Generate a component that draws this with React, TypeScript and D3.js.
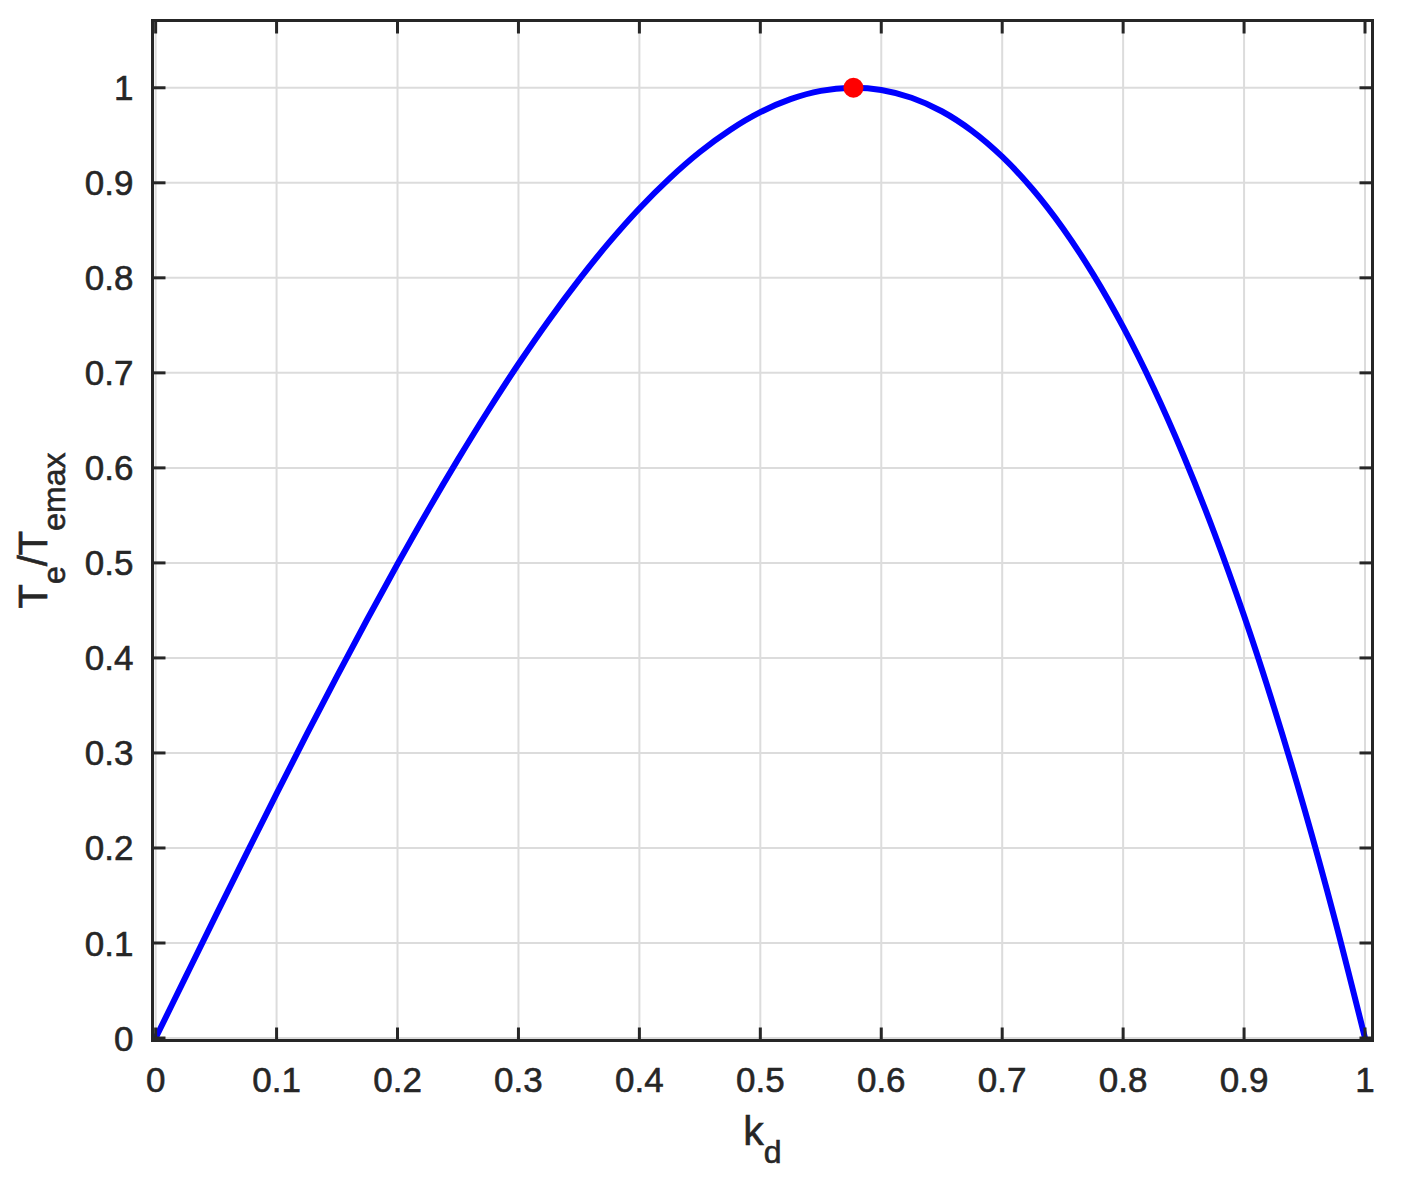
import React from "react";
import * as d3 from "d3";

const kd = [0, 0.025, 0.05, 0.075, 0.1, 0.125, 0.15, 0.175, 0.2, 0.225, 0.25, 0.275, 0.3, 0.325, 0.35, 0.375, 0.4, 0.425, 0.45, 0.475, 0.5, 0.525, 0.55, 0.575, 0.6, 0.625, 0.65, 0.675, 0.7, 0.725, 0.75, 0.775, 0.8, 0.825, 0.85, 0.875, 0.9, 0.925, 0.95, 0.975, 1.0];
const teRatio = [0, 0.0649, 0.1296, 0.1938, 0.2572, 0.3197, 0.3809, 0.4407, 0.4988, 0.555, 0.6089, 0.6604, 0.7093, 0.7552, 0.7979, 0.8373, 0.873, 0.9047, 0.9324, 0.9556, 0.9743, 0.988, 0.9967, 1.0, 0.9977, 0.9895, 0.9753, 0.9547, 0.9275, 0.8935, 0.8525, 0.8041, 0.7483, 0.6846, 0.6128, 0.5328, 0.4443, 0.347, 0.2406, 0.1251, 0];
const peakKd = [0.577];
const peakTe = [1.0];
const xTicks = [0, 0.1, 0.2, 0.3, 0.4, 0.5, 0.6, 0.7, 0.8, 0.9, 1];
const yTicks = [0, 0.1, 0.2, 0.3, 0.4, 0.5, 0.6, 0.7, 0.8, 0.9, 1];
const xLim = [-0.0026, 1.0062];
const yLim = [-0.0026, 1.0708];

const W = 1401;
const H = 1180;
const L = 152.5, R = 1372.5, T = 20.5, B = 1040.5;
const AX = "#262626";
const GRID = "#dcdcdc";
const FONT = "'Liberation Sans', Arial, Helvetica, sans-serif";

function fmt(v: number) {
  return v === 0 ? "0" : v === 1 ? "1" : String(v);
}

export default function App() {
  const x = d3.scaleLinear().domain(xLim).range([L, R]);
  const y = d3.scaleLinear().domain(yLim).range([B, T]);
  const pts = kd.map((k, i) => [k, teRatio[i]] as [number, number]);
  const line = d3
    .line<[number, number]>()
    .x((d) => x(d[0]))
    .y((d) => y(d[1]))
    .curve(d3.curveCatmullRom.alpha(0.5));
  const tl = 13;
  const textStroke = { stroke: AX, strokeWidth: 0.6 };
  return (
    <svg width={W} height={H} style={{ position: "absolute", left: 0, top: 0, background: "#fff" }}>
      <rect x={0} y={0} width={W} height={H} fill="#fff" />
      {xTicks.map((t) => (
        <line key={"gx" + t} x1={x(t)} x2={x(t)} y1={T} y2={B} stroke={GRID} strokeWidth={2} />
      ))}
      {yTicks.map((t) => (
        <line key={"gy" + t} x1={L} x2={R} y1={y(t)} y2={y(t)} stroke={GRID} strokeWidth={2} />
      ))}
      <path d={line(pts) || ""} fill="none" stroke="#0000ff" strokeWidth={6} strokeLinejoin="round" />
      {peakKd.map((k, i) => (
        <circle key={"p" + i} cx={x(k)} cy={y(peakTe[i])} r={10} fill="#ff0000" />
      ))}
      {xTicks.map((t) => (
        <g key={"tx" + t}>
          <line x1={x(t)} x2={x(t)} y1={B} y2={B - tl} stroke={AX} strokeWidth={3} />
          <line x1={x(t)} x2={x(t)} y1={T} y2={T + tl} stroke={AX} strokeWidth={3} />
          <text x={x(t)} y={1091.5} textAnchor="middle" fontFamily={FONT} fontSize={35} fill={AX} {...textStroke}>
            {fmt(t)}
          </text>
        </g>
      ))}
      {yTicks.map((t) => (
        <g key={"ty" + t}>
          <line x1={L} x2={L + tl} y1={y(t)} y2={y(t)} stroke={AX} strokeWidth={3} />
          <line x1={R} x2={R - tl} y1={y(t)} y2={y(t)} stroke={AX} strokeWidth={3} />
          <text x={133.5} y={y(t) + 12.5} textAnchor="end" fontFamily={FONT} fontSize={35} fill={AX} {...textStroke}>
            {fmt(t)}
          </text>
        </g>
      ))}
      <rect x={L} y={T} width={R - L} height={B - T} fill="none" stroke={AX} strokeWidth={3} />
      <text x={(L + R) / 2} y={1145} textAnchor="middle" fontFamily={FONT} fontSize={41} fill={AX} {...textStroke}>
        k
        <tspan fontSize={32} dy={18}>d</tspan>
      </text>
      <text
        transform={`translate(46.5, ${(T + B) / 2}) rotate(-90)`}
        textAnchor="middle"
        fontFamily={FONT}
        fontSize={40}
        fill={AX}
        {...textStroke}
      >
        T<tspan fontSize={32} dy={18}>e</tspan>
        <tspan dy={-18}>/T</tspan>
        <tspan fontSize={32} dy={18}>emax</tspan>
      </text>
    </svg>
  );
}
